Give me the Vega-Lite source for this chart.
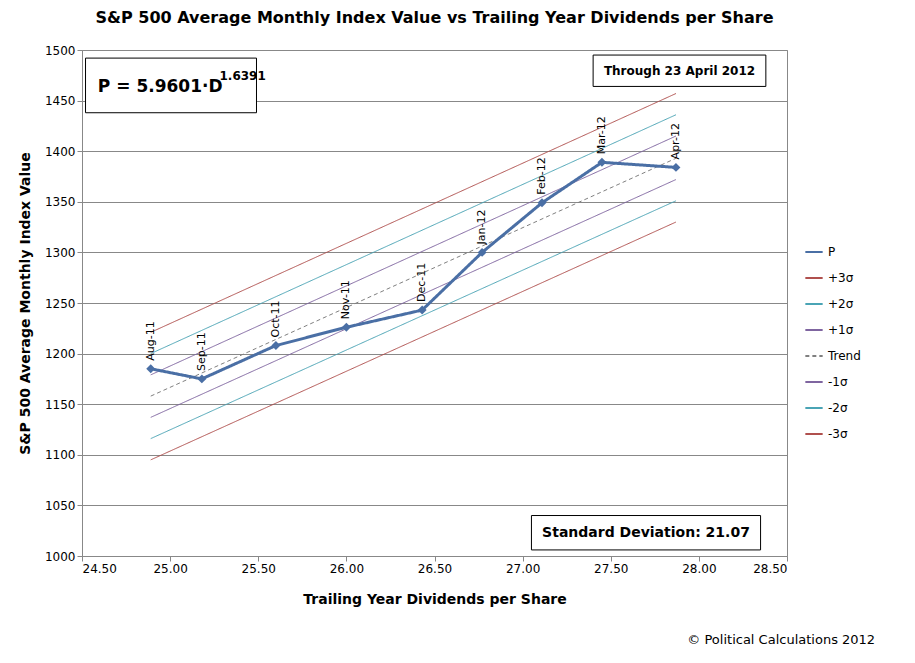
{
  "$schema": "https://vega.github.io/schema/vega-lite/v6.json",
  "width": 705,
  "height": 506,
  "padding": {"left": 18, "top": 10, "right": 5, "bottom": 5},
  "background": "white",
  "title": {"text": "S&P 500 Average Monthly Index Value vs Trailing Year Dividends per Share", "font": "DejaVu Sans", "fontSize": 16, "fontWeight": "bold", "color": "#000", "offset": 18, "anchor": "middle"},
  "datasets": {
    "bands": [
      {"series": "+3σ", "D": 24.89, "V": 1221}, {"series": "+3σ", "D": 27.87, "V": 1457},
      {"series": "+2σ", "D": 24.89, "V": 1200}, {"series": "+2σ", "D": 27.87, "V": 1436},
      {"series": "+1σ", "D": 24.89, "V": 1179}, {"series": "+1σ", "D": 27.87, "V": 1415},
      {"series": "Trend", "D": 24.89, "V": 1158}, {"series": "Trend", "D": 27.87, "V": 1393},
      {"series": "-1σ", "D": 24.89, "V": 1137}, {"series": "-1σ", "D": 27.87, "V": 1372},
      {"series": "-2σ", "D": 24.89, "V": 1116}, {"series": "-2σ", "D": 27.87, "V": 1351},
      {"series": "-3σ", "D": 24.89, "V": 1095}, {"series": "-3σ", "D": 27.87, "V": 1330}
    ],
    "p": [
      {"series": "P", "month": "Aug-11", "D": 24.89, "V": 1185},
      {"series": "P", "month": "Sep-11", "D": 25.18, "V": 1175},
      {"series": "P", "month": "Oct-11", "D": 25.60, "V": 1208},
      {"series": "P", "month": "Nov-11", "D": 26.00, "V": 1226},
      {"series": "P", "month": "Dec-11", "D": 26.43, "V": 1243},
      {"series": "P", "month": "Jan-12", "D": 26.77, "V": 1300},
      {"series": "P", "month": "Feb-12", "D": 27.11, "V": 1349},
      {"series": "P", "month": "Mar-12", "D": 27.45, "V": 1389},
      {"series": "P", "month": "Apr-12", "D": 27.87, "V": 1384}
    ],
    "boxes": [
      {"x1": 24.52, "x2": 25.49, "y1": 1438, "y2": 1492},
      {"x1": 27.40, "x2": 28.38, "y1": 1464, "y2": 1495},
      {"x1": 27.05, "x2": 28.35, "y1": 1006, "y2": 1040}
    ],
    "notes": [
      {"t": "Through 23 April 2012", "x": 27.89, "y": 1479, "size": 12},
      {"t": "Standard Deviation: 21.07", "x": 27.70, "y": 1023, "size": 14}
    ]
  },
  "layer": [
    {
      "data": {"name": "bands"},
      "mark": {"type": "line", "strokeWidth": 1},
      "encoding": {
        "x": {"field": "D", "type": "quantitative", "scale": {"domain": [24.5, 28.5], "nice": false},
          "axis": {"title": "Trailing Year Dividends per Share", "format": ".2f", "values": [24.5, 25, 25.5, 26, 26.5, 27, 27.5, 28, 28.5], "grid": false, "titlePadding": 18}},
        "y": {"field": "V", "type": "quantitative", "scale": {"domain": [1000, 1500], "nice": false},
          "axis": {"title": "S&P 500 Average Monthly Index Value", "format": "d", "values": [1000, 1050, 1100, 1150, 1200, 1250, 1300, 1350, 1400, 1450, 1500], "grid": true, "gridColor": "#888", "titlePadding": 12}},
        "color": {"field": "series", "type": "nominal",
          "scale": {"domain": ["P", "+3σ", "+2σ", "+1σ", "Trend", "-1σ", "-2σ", "-3σ"],
            "range": ["#4a6fa5", "#b0504e", "#4aa4b5", "#7f65a0", "#808080", "#7f65a0", "#4aa4b5", "#b0504e"]},
          "legend": {"title": null, "symbolType": "stroke", "orient": "none", "legendX": 722, "legendY": 192, "rowPadding": 10, "labelFontSize": 12, "symbolStrokeWidth": 2, "symbolSize": 300, "padding": 0}},
        "strokeDash": {"field": "series", "type": "nominal",
          "scale": {"domain": ["P", "+3σ", "+2σ", "+1σ", "Trend", "-1σ", "-2σ", "-3σ"],
            "range": [[1, 0], [1, 0], [1, 0], [1, 0], [4, 3], [1, 0], [1, 0], [1, 0]]},
          "legend": {"title": null}},
        "strokeWidth": {"condition": {"test": "datum.series === 'Trend'", "value": 2}, "value": 1}
      }
    },
    {
      "data": {"name": "p"},
      "mark": {"type": "line", "strokeWidth": 3, "point": {"shape": "diamond", "size": 80, "filled": true}},
      "encoding": {
        "x": {"field": "D", "type": "quantitative"},
        "y": {"field": "V", "type": "quantitative"},
        "color": {"field": "series", "type": "nominal"},
        "strokeDash": {"field": "series", "type": "nominal"}
      }
    },
    {
      "data": {"name": "p"},
      "mark": {"type": "text", "angle": 270, "align": "left", "baseline": "middle", "dx": 8, "fontSize": 11, "color": "#000"},
      "encoding": {
        "x": {"field": "D", "type": "quantitative"},
        "y": {"field": "V", "type": "quantitative"},
        "text": {"field": "month"}
      }
    },
    {
      "data": {"name": "boxes"},
      "mark": {"type": "rect", "fill": "white", "stroke": "#000", "strokeWidth": 1},
      "encoding": {
        "x": {"field": "x1", "type": "quantitative"},
        "x2": {"field": "x2"},
        "y": {"field": "y1", "type": "quantitative"},
        "y2": {"field": "y2"}
      }
    },
    {
      "data": {"name": "notes"},
      "mark": {"type": "text", "align": "center", "baseline": "middle", "fontWeight": "bold", "color": "#000"},
      "encoding": {
        "x": {"field": "x", "type": "quantitative"},
        "y": {"field": "y", "type": "quantitative"},
        "text": {"field": "t"},
        "size": {"field": "size", "type": "quantitative", "scale": null}
      }
    },
    {
      "data": {"values": [{"t": "P = 5.9601·D", "x": 24.59, "y": 1463, "s": 17}, {"t": "1.6391", "x": 25.28, "y": 1474, "s": 12}]},
      "mark": {"type": "text", "align": "left", "fontWeight": "bold", "color": "#000", "baseline": "middle"},
      "encoding": {
        "x": {"field": "x", "type": "quantitative"},
        "y": {"field": "y", "type": "quantitative"},
        "text": {"field": "t"},
        "size": {"field": "s", "type": "quantitative", "scale": null}
      }
    },
    {
      "data": {"values": [{"t": "© Political Calculations 2012"}]},
      "mark": {"type": "text", "align": "right", "fontSize": 13, "color": "#000", "clip": false},
      "encoding": {
        "x": {"datum": 29.0},
        "y": {"datum": 917},
        "text": {"field": "t"}
      }
    }
  ],
  "config": {
    "font": "DejaVu Sans",
    "view": {"stroke": "#888"},
    "axis": {"labelFontSize": 12, "titleFontSize": 14, "titleFontWeight": "bold", "labelColor": "#000", "titleColor": "#000", "domainColor": "#888", "tickColor": "#888", "labelFont": "DejaVu Sans"}
  }
}
